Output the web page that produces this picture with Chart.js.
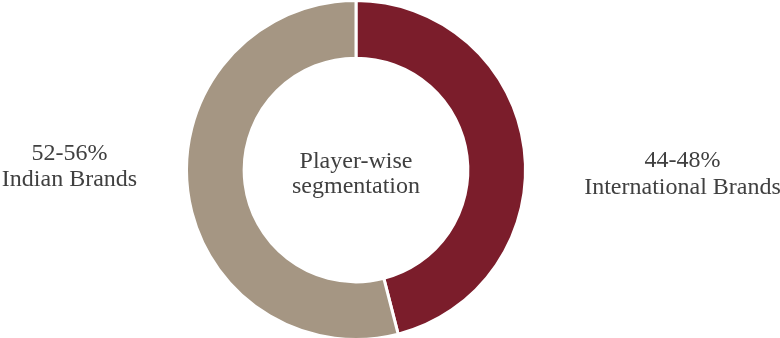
<!DOCTYPE html>
<html>
<head>
<meta charset="utf-8">
<script src="https://cdn.jsdelivr.net/npm/chart.js@4.4.1/dist/chart.umd.min.js"></script>
<style>
  html, body { margin: 0; padding: 0; background: #fff; overflow: hidden; }
  #wrap { position: absolute; left: 0; top: -1px; width: 780px; height: 342px; }
</style>
</head>
<body>
<div id="wrap"><canvas id="myChart"></canvas></div>
<script>
// Datos del gráfico
const segmentos = ['International Brands', 'Indian Brands'];
const rangos = ['44-48%', '52-56%'];
const valores = [46, 54];
const colores = ['#7B1D2B', '#A59683'];
const titulo = ['Player-wise', 'segmentation'];

const fuente = '24px "Liberation Serif", "Times New Roman", serif';
const colorTexto = '#404040';

// Etiquetas a los lados y texto en el centro
const etiquetas = {
  id: 'etiquetas',
  afterDraw(chart) {
    const ctx = chart.ctx;
    const meta = chart.getDatasetMeta(0);
    const arco = meta.data[0];
    const cx = arco.x, cy = arco.y;
    const r = arco.outerRadius;
    ctx.save();
    ctx.font = fuente;
    ctx.fillStyle = colorTexto;
    ctx.textAlign = 'center';
    ctx.textBaseline = 'alphabetic';
    // centro
    ctx.fillText(titulo[0], cx, cy - 2);
    ctx.fillText(titulo[1], cx, cy + 23);
    // derecha (International)
    const xDer = cx + r + 157;
    ctx.fillText(rangos[0], xDer, cy - 3);
    ctx.fillText(segmentos[0], xDer, cy + 24);
    // izquierda (Indian)
    const xIzq = cx - r - 117;
    ctx.fillText(rangos[1], xIzq, cy - 10);
    ctx.fillText(segmentos[1], xIzq, cy + 16);
    ctx.restore();
  }
};

new Chart(document.getElementById('myChart'), {
  type: 'doughnut',
  data: {
    labels: segmentos,
    datasets: [{
      data: valores,
      backgroundColor: colores,
      borderColor: '#ffffff',
      borderWidth: 3,
      hoverOffset: 0
    }]
  },
  options: {
    responsive: true,
    maintainAspectRatio: false,
    animation: false,
    cutout: '66%',
    layout: { padding: { left: 0, right: 68, top: 0, bottom: 0 } },
    plugins: { legend: { display: false }, tooltip: { enabled: false } }
  },
  plugins: [etiquetas]
});
</script>
</body>
</html>
